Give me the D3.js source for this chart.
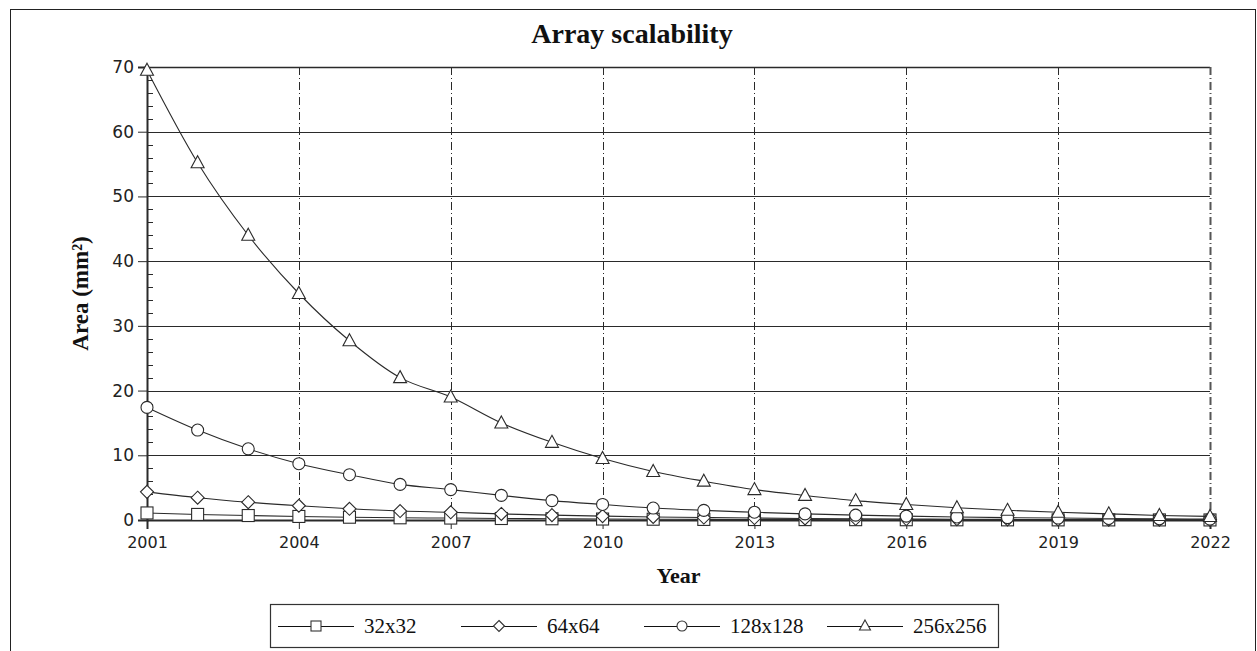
<!DOCTYPE html>
<html>
<head>
<meta charset="utf-8">
<script src="https://cdn.jsdelivr.net/npm/d3@7"></script>
<style>
  html, body { margin: 0; padding: 0; background: #fff; }
  svg { display: block; }
</style>
</head>
<body>
<svg id="chart" width="1257" height="651"></svg>
<script>
// ---- Data ----
const years = [2001,2002,2003,2004,2005,2006,2007,2008,2009,2010,2011,2012,2013,2014,2015,2016,2017,2018,2019,2020,2021,2022];
const area32  = [1.09,0.86,0.69,0.55,0.43,0.34,0.30,0.23,0.19,0.15,0.12,0.09,0.07,0.06,0.05,0.04,0.03,0.023,0.019,0.015,0.012,0.009];
const area64  = [4.35,3.45,2.75,2.2,1.73,1.38,1.19,0.94,0.75,0.6,0.47,0.38,0.3,0.24,0.19,0.15,0.12,0.09,0.075,0.06,0.047,0.035];
const area128 = [17.4,13.9,11.0,8.7,7.0,5.5,4.7,3.8,3.0,2.4,1.85,1.48,1.2,0.94,0.75,0.6,0.47,0.37,0.3,0.24,0.19,0.15];
const area256 = [69.5,55.2,44.0,35.0,27.7,22.0,19.0,15.0,12.0,9.5,7.5,6.0,4.7,3.8,3.0,2.4,1.9,1.5,1.2,0.95,0.7,0.55];
const seriesNames = ["32x32","64x64","128x128","256x256"];
const seriesMarkers = ["square","diamond","circle","triangle"];
const xTickValues = [2001,2004,2007,2010,2013,2016,2019,2022];
const yTickValues = [0,10,20,30,40,50,60,70];
const yMinorValues = [2,4,6,8,12,14,16,18,22,24,26,28,32,34,36,38,42,44,46,48,52,54,56,58,62,64,66,68];
const titleText = "Array scalability";
const xLabel = "Year";
const yLabel = "Area (mm²)";

const seriesValues = [area32, area64, area128, area256];

// ---- Layout ----
const svg = d3.select("#chart");
const L = 147, R = 1210, T = 67, B = 520;
const x = d3.scaleLinear().domain([2001, 2022]).range([L, R]);
const y = d3.scaleLinear().domain([0, 70]).range([B, T]);
const ink = "#2a2a2a";
const serif = "'Liberation Serif', 'Times New Roman', serif";

// Outer frame
svg.append("rect").attr("x", 10.5).attr("y", 9.5).attr("width", 1245).attr("height", 660)
  .attr("fill", "none").attr("stroke", "#222").attr("stroke-width", 1);

// Title
svg.append("text").attr("x", 632).attr("y", 43).attr("text-anchor", "middle")
  .attr("font-family", serif).attr("font-weight", "bold")
  .attr("font-size", 28).attr("fill", "#111").text(titleText);

// Horizontal grid lines
svg.append("g").selectAll("line").data(yTickValues).join("line")
  .attr("x1", L).attr("x2", R).attr("y1", d => Math.round(y(d)) + 0.5).attr("y2", d => Math.round(y(d)) + 0.5)
  .attr("stroke", ink).attr("stroke-width", d => d === 70 ? 1.6 : 1);

// Vertical dash-dot grid lines
svg.append("g").selectAll("line").data(xTickValues.slice(1)).join("line")
  .attr("x1", d => Math.round(x(d)) + 0.5).attr("x2", d => Math.round(x(d)) + 0.5)
  .attr("y1", T).attr("y2", B)
  .attr("stroke", d => d === 2022 ? "#555" : ink)
  .attr("stroke-width", d => d === 2022 ? 2 : 1)
  .attr("stroke-dasharray", "8,3,1,3");

// Y axis
const yAxis = d3.axisLeft(y).tickValues(yTickValues).tickSize(9).tickPadding(4).tickFormat(d3.format("d"));
const gy = svg.append("g").attr("transform", `translate(${L},0)`).call(yAxis);
gy.select(".domain").attr("stroke", ink).attr("stroke-width", 2);
gy.selectAll(".tick line").attr("stroke", ink);
gy.selectAll(".tick text").attr("font-family", "'DejaVu Sans', sans-serif").attr("font-size", 17).attr("fill", "#222");

// Y minor ticks (inward)
svg.append("g").selectAll("line").data(yMinorValues).join("line")
  .attr("x1", L).attr("x2", L + 6).attr("y1", d => Math.round(y(d)) + 0.5).attr("y2", d => Math.round(y(d)) + 0.5)
  .attr("stroke", ink).attr("stroke-width", 1);

// X axis
const xAxis = d3.axisBottom(x).tickValues(xTickValues).tickSize(9).tickPadding(8).tickFormat(d3.format("d"));
const gx = svg.append("g").attr("transform", `translate(0,${B})`).call(xAxis);
gx.select(".domain").attr("stroke", ink).attr("stroke-width", 2);
gx.selectAll(".tick line").attr("stroke", ink);
gx.selectAll(".tick text").attr("font-family", "'DejaVu Sans', sans-serif").attr("font-size", 16).attr("fill", "#222");

// Axis labels
svg.append("text").attr("x", (L + R) / 2).attr("y", 583).attr("text-anchor", "middle")
  .attr("font-family", serif).attr("font-weight", "bold")
  .attr("font-size", 22).attr("fill", "#111").text(xLabel);
svg.append("text").attr("transform", `translate(88,${(T + B) / 2}) rotate(-90)`).attr("text-anchor", "middle")
  .attr("font-family", serif).attr("font-weight", "bold")
  .attr("font-size", 23).attr("fill", "#111").text(yLabel);

// Marker drawing
function drawMarker(g, type, s) {
  const h = s / 2;
  if (type === "square") {
    g.append("rect").attr("x", -h).attr("y", -h).attr("width", s).attr("height", s);
  } else if (type === "diamond") {
    g.append("path").attr("d", `M0,${-h - 0.5}L${h + 0.5},0L0,${h + 0.5}L${-h - 0.5},0Z`);
  } else if (type === "circle") {
    g.append("circle").attr("r", h);
  } else {
    g.append("path").attr("d", `M0,${-h - 1}L${h + 0.5},${h - 1}L${-h - 0.5},${h - 1}Z`);
  }
}

const line = d3.line().x(d => x(d[0])).y(d => y(d[1])).curve(d3.curveMonotoneX);

seriesValues.forEach((vals, i) => {
  const pts = years.map((yr, j) => [yr, vals[j]]);
  const g = svg.append("g");
  g.append("path").datum(pts).attr("d", line).attr("fill", "none").attr("stroke", ink).attr("stroke-width", 1.1);
  pts.forEach(p => {
    const m = g.append("g").attr("transform", `translate(${x(p[0])},${y(p[1])})`)
      .attr("fill", "#fff").attr("stroke", ink).attr("stroke-width", 1.1);
    drawMarker(m, seriesMarkers[i], 12);
  });
});

// Legend
const lg = svg.append("g");
lg.append("rect").attr("x", 270.5).attr("y", 604.5).attr("width", 728).attr("height", 43)
  .attr("fill", "#fff").attr("stroke", "#333").attr("stroke-width", 1.2);
const legendStart = 278, legendStep = 183, ly = 626;
seriesNames.forEach((name, i) => {
  const x0 = legendStart + i * legendStep;
  lg.append("line").attr("x1", x0).attr("x2", x0 + 76).attr("y1", ly + 0.5).attr("y2", ly + 0.5)
    .attr("stroke", "#111").attr("stroke-width", 1);
  const m = lg.append("g").attr("transform", `translate(${x0 + 38},${ly})`)
    .attr("fill", "#fff").attr("stroke", "#333").attr("stroke-width", 1.1);
  drawMarker(m, seriesMarkers[i], 10);
  lg.append("text").attr("x", x0 + 86).attr("y", ly + 7).attr("font-family", serif)
    .attr("font-size", 21).attr("fill", "#111").text(name);
});
</script>
</body>
</html>
